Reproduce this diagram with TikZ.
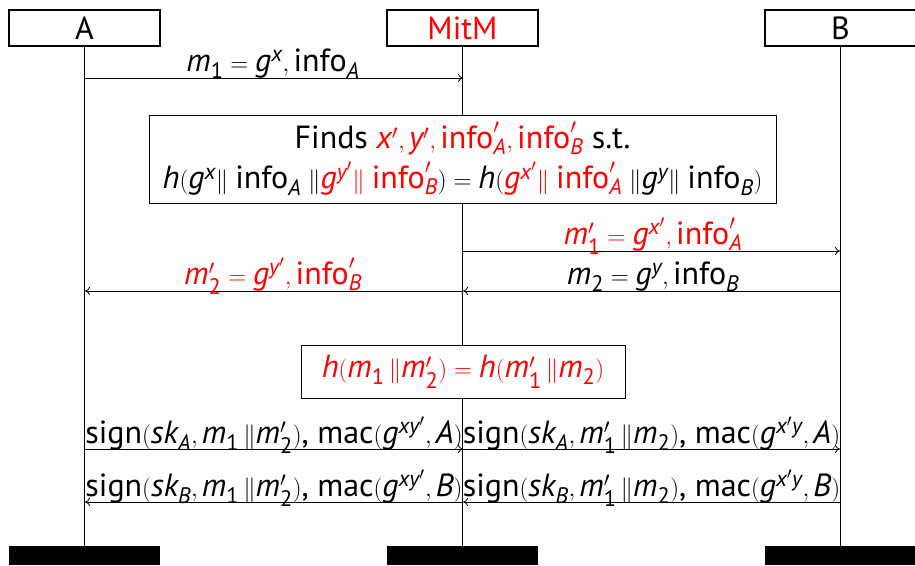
\documentclass[tikz,border=0pt]{standalone}
\usepackage{amsmath}
\usepackage{fontspec}
\setmainfont{PT Sans}
\usetikzlibrary{arrows.meta}
\newcommand{\V}[1]{\textit{#1}}
\newcommand{\U}[1]{\textup{#1}}
\begin{document}
\begin{tikzpicture}[x=1pt,y=-1pt,
  font=\fontsize{32}{36}\selectfont,
  hdr/.style={draw,fill=white,line width=1.2pt,minimum width=151pt,minimum height=36pt,inner sep=0pt,font=\fontsize{32}{36}\selectfont},
  endbar/.style={fill=black,minimum width=151pt,minimum height=19pt,inner sep=0pt},
  life/.style={line width=0.8pt},
  msg/.style={line width=0.8pt,-{To[length=5pt,width=8pt]}},
  lab/.style={anchor=base,inner sep=0pt},
  act/.style={draw,fill=white,line width=1pt,inner sep=0pt,align=center}]
\useasboundingbox (0,0) rectangle (915,565);
% headers
\node[hdr] (hA) at (84.5,28) {A};
\node[hdr,text=red] (hM) at (462.5,28) {MitM};
\node[hdr] (hB) at (840.5,28) {B};
% end bars
\node[endbar] (eA) at (84.5,555.5) {};
\node[endbar] (eM) at (462.5,555.5) {};
\node[endbar] (eB) at (840.5,555.5) {};
% lifelines
\draw[life] (hA.south) -- (eA.north);
\draw[life] (hM.south) -- (eM.north);
\draw[life] (hB.south) -- (eB.north);
% message 1
\coordinate (a1) at (85,78);
\coordinate (m1) at (463,78);
\draw[msg] (a1) -- (m1);
\node[lab] (l1) at (273,71) {$\V{m}_{\U{1}} = \V{g}^{\V{x}}, \U{info}_{\V{A}}$};
% finds box
\node[act,minimum width=627pt,minimum height=88pt] (finds) at (462.5,159) {Finds \textcolor{red}{$\V{x}', \V{y}', \U{info}'_{\V{A}}, \U{info}'_{\V{B}}$} s.t.\\[4pt]
$\V{h}(\V{g}^{\V{x}}\|\;\U{info}_{\V{A}}\;\|\textcolor{red}{\V{g}^{\V{y}'}\|\;\U{info}'_{\V{B}}}) = \V{h}(\textcolor{red}{\V{g}^{\V{x}'}\|\;\U{info}'_{\V{A}}}\;\|\V{g}^{\V{y}}\|\;\U{info}_{\V{B}})$};
% m1'
\coordinate (m2) at (463,251);
\coordinate (b2) at (840,251);
\draw[msg] (m2) -- (b2);
\node[lab,text=red] (l2) at (653,244) {$\V{m}'_{\U{1}} = \V{g}^{\V{x}'}, \U{info}'_{\V{A}}$};
% m2
\coordinate (b3) at (840,291);
\coordinate (m3) at (463,291);
\draw[msg] (b3) -- (m3);
\node[lab] (l3) at (653,284) {$\V{m}_{\U{2}} = \V{g}^{\V{y}}, \U{info}_{\V{B}}$};
% m2'
\coordinate (m4) at (463,291);
\coordinate (a4) at (85,291);
\draw[msg] (m4) -- (a4);
\node[lab,text=red] (l4) at (273,284) {$\V{m}'_{\U{2}} = \V{g}^{\V{y}'}, \U{info}'_{\V{B}}$};
% h box
\node[act,text=red,minimum width=324pt,minimum height=53pt] (hb) at (463,371.5) {$\V{h}(\V{m}_{\U{1}}\,\|\V{m}'_{\U{2}}) = \V{h}(\V{m}'_{\U{1}}\,\|\V{m}_{\U{2}})$};
% sign A
\coordinate (a5) at (85,449);
\coordinate (m5) at (463,449);
\coordinate (b5) at (840,449);
\draw[msg] (a5) -- (m5);
\draw[msg] (m5) -- (b5);
\node[lab] (l5) at (274,443) {\U{sign}$(\V{sk}_{\V{A}}, \V{m}_{\U{1}}\,\|\V{m}'_{\U{2}})$, \U{mac}$(\V{g}^{\V{xy}'}, \V{A})$};
\node[lab] (l6) at (651.5,443) {\U{sign}$(\V{sk}_{\V{A}}, \V{m}'_{\U{1}}\,\|\V{m}_{\U{2}})$, \U{mac}$(\V{g}^{\V{x}'\V{y}}, \V{A})$};
% sign B
\coordinate (a7) at (85,502);
\coordinate (m7) at (463,502);
\coordinate (b7) at (840,502);
\draw[msg] (m7) -- (a7);
\draw[msg] (b7) -- (m7);
\node[lab] (l7) at (274,496) {\U{sign}$(\V{sk}_{\V{B}}, \V{m}_{\U{1}}\,\|\V{m}'_{\U{2}})$, \U{mac}$(\V{g}^{\V{xy}'}, \V{B})$};
\node[lab] (l8) at (651.5,496) {\U{sign}$(\V{sk}_{\V{B}}, \V{m}'_{\U{1}}\,\|\V{m}_{\U{2}})$, \U{mac}$(\V{g}^{\V{x}'\V{y}}, \V{B})$};
\end{tikzpicture}
\end{document}
